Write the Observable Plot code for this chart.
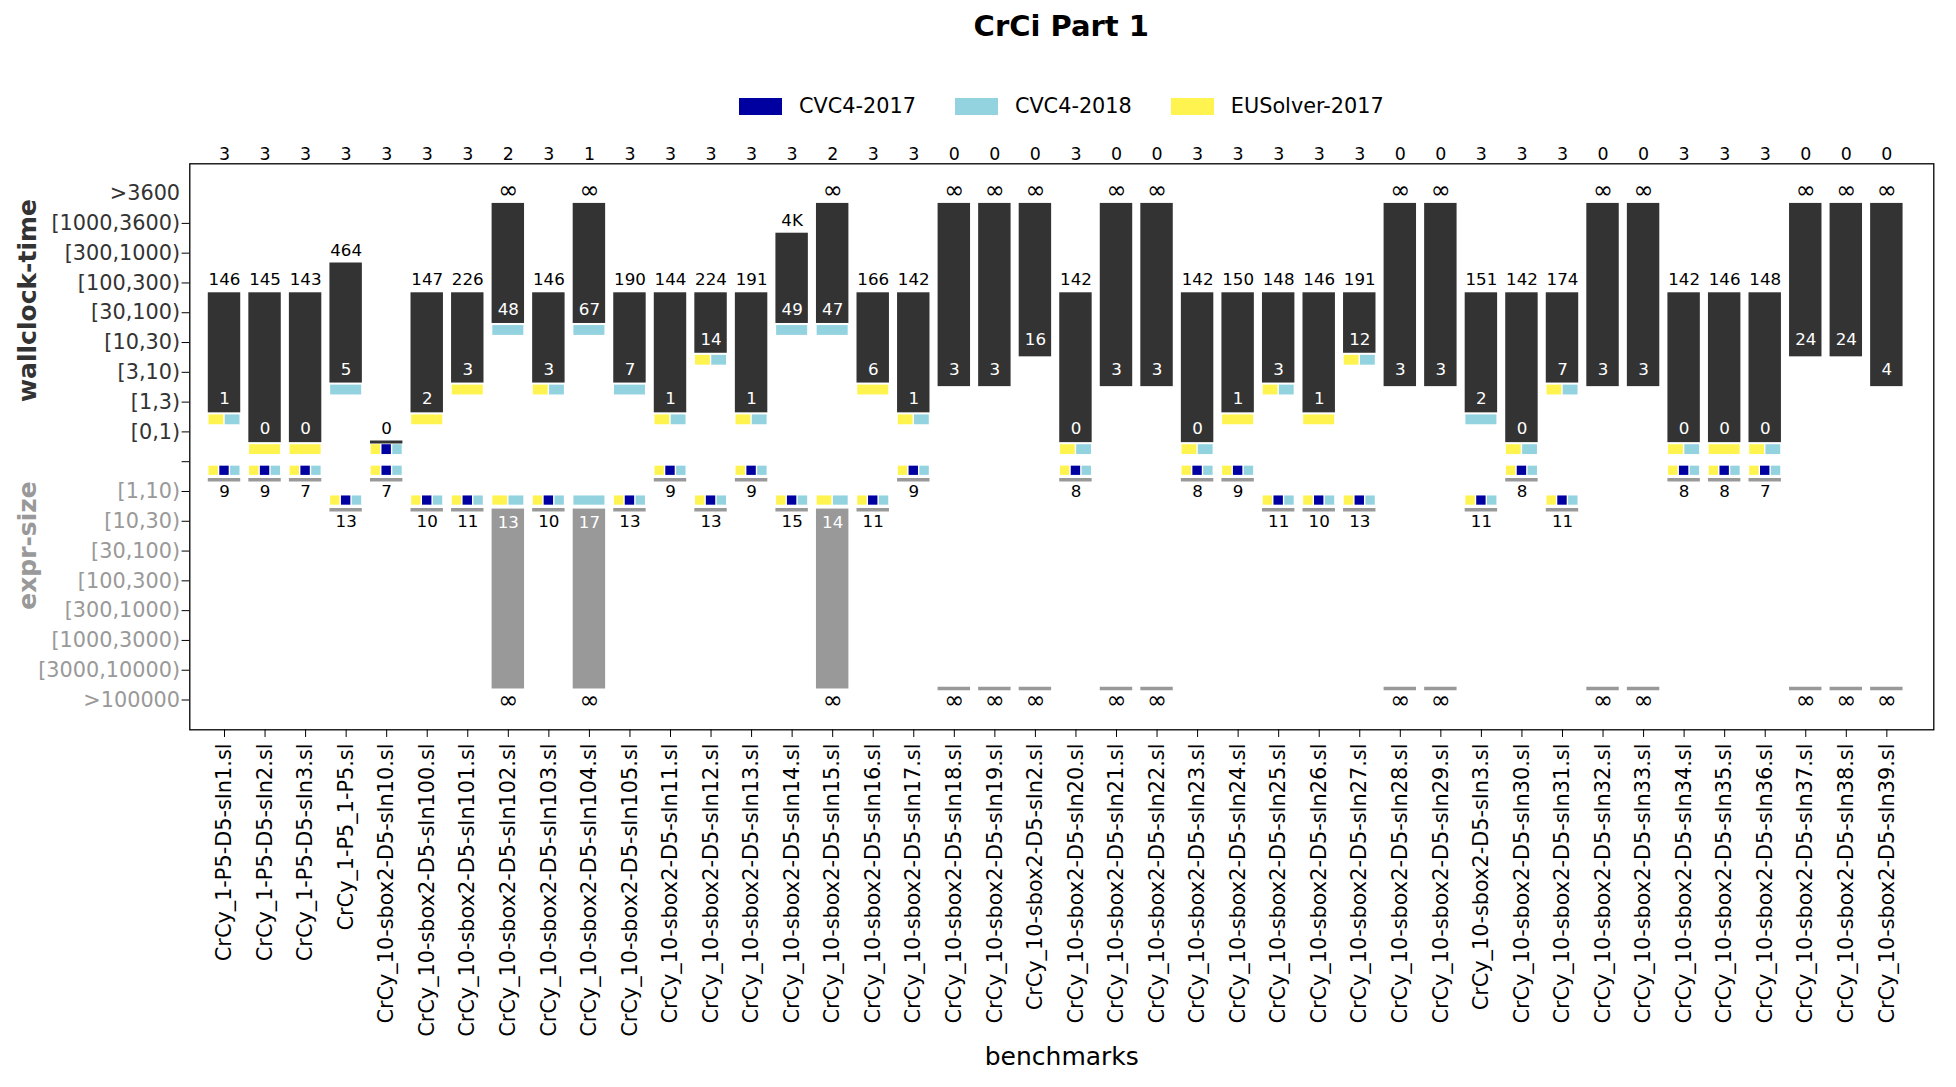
<!DOCTYPE html>
<html><head><meta charset="utf-8">
<script src="https://cdn.jsdelivr.net/npm/d3@7"></script>
<script src="https://cdn.jsdelivr.net/npm/@observablehq/plot@0.6"></script>
<style>
body{margin:0;background:#fff;font-family:"DejaVu Sans",sans-serif;color:#000;}
#header{position:relative;width:1956px;height:130px;}
#title{position:absolute;top:0;left:189.3px;width:1744px;height:52px;line-height:52px;text-align:center;font-weight:bold;font-size:29px;}
#legend{position:absolute;top:96px;left:189.3px;width:1744px;height:20px;display:flex;justify-content:center;align-items:center;font-size:20.8px;}
.item{display:flex;align-items:center;margin:0 19.5px;}
.sw{width:43px;height:17px;margin-right:17px;}
</style></head><body>
<div id="header"><div id="title">CrCi Part 1</div><div id="legend"></div></div>
<div id="chart"></div>
<script>
const benchmarks = [
"CrCy_1-P5-D5-sIn1.sl","CrCy_1-P5-D5-sIn2.sl","CrCy_1-P5-D5-sIn3.sl","CrCy_1-P5_1-P5.sl",
"CrCy_10-sbox2-D5-sIn10.sl","CrCy_10-sbox2-D5-sIn100.sl","CrCy_10-sbox2-D5-sIn101.sl","CrCy_10-sbox2-D5-sIn102.sl",
"CrCy_10-sbox2-D5-sIn103.sl","CrCy_10-sbox2-D5-sIn104.sl","CrCy_10-sbox2-D5-sIn105.sl","CrCy_10-sbox2-D5-sIn11.sl",
"CrCy_10-sbox2-D5-sIn12.sl","CrCy_10-sbox2-D5-sIn13.sl","CrCy_10-sbox2-D5-sIn14.sl","CrCy_10-sbox2-D5-sIn15.sl",
"CrCy_10-sbox2-D5-sIn16.sl","CrCy_10-sbox2-D5-sIn17.sl","CrCy_10-sbox2-D5-sIn18.sl","CrCy_10-sbox2-D5-sIn19.sl",
"CrCy_10-sbox2-D5-sIn2.sl","CrCy_10-sbox2-D5-sIn20.sl","CrCy_10-sbox2-D5-sIn21.sl","CrCy_10-sbox2-D5-sIn22.sl",
"CrCy_10-sbox2-D5-sIn23.sl","CrCy_10-sbox2-D5-sIn24.sl","CrCy_10-sbox2-D5-sIn25.sl","CrCy_10-sbox2-D5-sIn26.sl",
"CrCy_10-sbox2-D5-sIn27.sl","CrCy_10-sbox2-D5-sIn28.sl","CrCy_10-sbox2-D5-sIn29.sl","CrCy_10-sbox2-D5-sIn3.sl",
"CrCy_10-sbox2-D5-sIn30.sl","CrCy_10-sbox2-D5-sIn31.sl","CrCy_10-sbox2-D5-sIn32.sl","CrCy_10-sbox2-D5-sIn33.sl",
"CrCy_10-sbox2-D5-sIn34.sl","CrCy_10-sbox2-D5-sIn35.sl","CrCy_10-sbox2-D5-sIn36.sl","CrCy_10-sbox2-D5-sIn37.sl",
"CrCy_10-sbox2-D5-sIn38.sl","CrCy_10-sbox2-D5-sIn39.sl"];
const solvedCounts = [3,3,3,3,3,3,3,2,3,1,3,3,3,3,3,2,3,3,0,0,0,3,0,0,3,3,3,3,3,0,0,3,3,3,0,0,3,3,3,0,0,0];
const Inf = Infinity;
const wallMax = [146,145,143,464,0,147,226,Inf,146,Inf,190,144,224,191,3550,Inf,166,142,Inf,Inf,Inf,142,Inf,Inf,142,150,148,146,191,Inf,Inf,151,142,174,Inf,Inf,142,146,148,Inf,Inf,Inf];
const wallMin = [1,0,0,5,0,2,3,48,3,67,7,1,14,1,49,47,6,1,3,3,16,0,3,3,0,1,3,1,12,3,3,2,0,7,3,3,0,0,0,24,24,4];
// solvers reaching the best time: E = EUSolver-2017, A = CVC4-2017, B = CVC4-2018
const wallBest = ["EB","E","E","B","EAB","E","E","B","EB","B","B","EB","EB","EB","B","B","E","EB","","","","EB","","","EB","E","EB","E","EB","","","B","EB","EB","","","EB","E","EB","","",""];
const sizeMin = [9,9,7,13,7,10,11,13,10,17,13,9,13,9,15,14,11,9,Inf,Inf,Inf,8,Inf,Inf,8,9,11,10,13,Inf,Inf,11,8,11,Inf,Inf,8,8,7,Inf,Inf,Inf];
const sizeMax = [9,9,7,13,7,10,11,Inf,10,Inf,13,9,13,9,15,Inf,11,9,Inf,Inf,Inf,8,Inf,Inf,8,9,11,10,13,Inf,Inf,11,8,11,Inf,Inf,8,8,7,Inf,Inf,Inf];
const sizeBest = ["EAB","EAB","EAB","EAB","EAB","EAB","EAB","EB","EAB","B","EAB","EAB","EAB","EAB","EAB","EB","EAB","EAB","","","","EAB","","","EAB","EAB","EAB","EAB","EAB","","","EAB","EAB","EAB","","","EAB","EAB","EAB","","",""];
const solverCodes = ["E","A","B"];
const solverNames = {E:"EUSolver-2017", A:"CVC4-2017", B:"CVC4-2018"};
const solverColors = {E:"#fff44f", A:"#0000a0", B:"#93d3e0"};
const legendOrder = ["A","B","E"];
const wallTickLabels = [">3600","[1000,3600)","[300,1000)","[100,300)","[30,100)","[10,30)","[3,10)","[1,3)","[0,1)"];
const sizeTickLabels = ["[1,10)","[10,30)","[30,100)","[100,300)","[300,1000)","[1000,3000)","[3000,10000)",">100000"];
const wallEdges = [1,3,10,30,100,300,1000,3600];
const sizeEdges = [10,30,100,300,1000,3000,100000];

// legend
const leg = document.getElementById("legend");
for (const c of legendOrder) {
  const it = document.createElement("div"); it.className = "item";
  const sw = document.createElement("div"); sw.className = "sw"; sw.style.background = solverColors[c];
  const tx = document.createElement("span"); tx.textContent = solverNames[c];
  it.appendChild(sw); it.appendChild(tx); leg.appendChild(it);
}

const fmt = v => v === Infinity ? "∞" : v >= 1000 ? Math.round(v / 1000) + "K" : String(v);
const fsz = v => v === Infinity ? 24 : 16.7;
const wallLevel = v => 8 - wallEdges.filter(e => v >= e).length;
const sizeLevel = v => 10 + sizeEdges.filter(e => v >= e).length;
const idx = d3.range(benchmarks.length);
const rows = idx.map(i => ({
  i, count: solvedCounts[i],
  wMax: wallMax[i], wMin: wallMin[i], wTop: wallLevel(wallMax[i]), wBot: wallLevel(wallMin[i]), wBest: wallBest[i],
  sMin: sizeMin[i], sMax: sizeMax[i], sTop: sizeLevel(sizeMin[i]), sBot: sizeLevel(sizeMax[i]), sBest: sizeBest[i]
}));
const half = 0.4;
const wallSpan = rows.filter(r => r.wMin !== r.wMax);
const wallFlat = rows.filter(r => r.wMin === r.wMax);
const sizeSpan = rows.filter(r => r.sMin !== r.sMax);
const sizeFlat = rows.filter(r => r.sMin === r.sMax);

function squares(bestKey, levelKey, o1, o2) {
  const out = [];
  for (const r of rows) {
    const codes = r[bestKey].split("");
    const n = codes.length;
    codes.forEach((c, k) => out.push({
      code: c,
      x1: r.i - half + 2 * half * k / n, x2: r.i - half + 2 * half * (k + 1) / n,
      y1: r[levelKey] + o1, y2: r[levelKey] + o2
    }));
  }
  return out;
}
const wallSq = squares("wBest", "wBot", 0.43, 0.76);
const sizeSq = squares("sBest", "sTop", -0.85, -0.54);
const sqMarks = [];
for (const c of solverCodes) {
  sqMarks.push(Plot.rect(wallSq.filter(d => d.code === c), {x1: "x1", x2: "x2", y1: "y1", y2: "y2", fill: solverColors[c], insetLeft: 0.7, insetRight: 0.7}));
  sqMarks.push(Plot.rect(sizeSq.filter(d => d.code === c), {x1: "x1", x2: "x2", y1: "y1", y2: "y2", fill: solverColors[c], insetLeft: 0.7, insetRight: 0.7}));
}

const chart = Plot.plot({
  width: 1956, height: 957,
  marginTop: 33.3, marginBottom: 357.7, marginLeft: 189.3, marginRight: 22.7,
  style: {fontFamily: "DejaVu Sans", fontSize: "20.8px", background: "white", color: "black"},
  x: {type: "linear", domain: [-0.856, 42.158], label: null},
  y: {type: "linear", domain: [18, -1], label: null},
  marks: [
    // wallclock bars
    Plot.rect(wallSpan, {x1: r => r.i - half, x2: r => r.i + half, y1: r => r.wTop + 0.33, y2: r => r.wBot + (r.wBest.length ? 0.36 : 0.48), fill: "#333333"}),
    Plot.ruleY(wallFlat, {y: r => r.wTop + 0.34, x1: r => r.i - half, x2: r => r.i + half, stroke: "#333333", strokeWidth: 3}),
    // expr-size bars
    Plot.rect(sizeSpan, {x1: r => r.i - half, x2: r => r.i + half, y1: r => r.sTop - 0.41, y2: r => r.sBot - 0.37, fill: "#999999"}),
    Plot.ruleY(sizeFlat, {y: r => r.sTop - 0.39, x1: r => r.i - half, x2: r => r.i + half, stroke: "#999999", strokeWidth: 3.5}),
    ...sqMarks,
    // labels
    Plot.text(rows, {x: "i", y: r => r.wTop - 0.1, text: r => fmt(r.wMax), fill: "black", fontSize: r => fsz(r.wMax)}),
    Plot.text(wallSpan, {x: "i", y: r => r.wBot - 0.1, text: r => fmt(r.wMin), fill: "white", fontSize: r => fsz(r.wMin)}),
    Plot.text(rows, {x: "i", y: r => r.sBot, text: r => fmt(r.sMax), fill: "black", fontSize: r => fsz(r.sMax)}),
    Plot.text(sizeSpan, {x: "i", y: r => r.sTop + 0.03, text: r => fmt(r.sMin), fill: "white", fontSize: r => fsz(r.sMin)}),
    // top counts
    Plot.text(rows, {x: "i", frameAnchor: "top", lineAnchor: "middle", dy: -9.6, text: r => String(r.count), fill: "black", fontSize: 17.4}),
    // axes
    Plot.axisX({ticks: idx, tickFormat: i => benchmarks[i], tickRotate: -90, tickSize: 7.7, tickPadding: 6, label: null}),
    Plot.axisY({ticks: d3.range(1, 18), tickFormat: () => "", tickSize: 7.7, label: null}),
    Plot.axisY({ticks: d3.range(0, 9), tickFormat: i => wallTickLabels[i], tickSize: 0, tickPadding: 9.7, color: "#333333", label: null}),
    Plot.axisY({ticks: d3.range(10, 18), tickFormat: i => sizeTickLabels[i - 10], tickSize: 0, tickPadding: 9.7, color: "#999999", label: null}),
    Plot.frame({stroke: "black", strokeWidth: 1.3}),
    // axis titles
    Plot.text(["wallclock-time"], {frameAnchor: "top-left", textAnchor: "middle", lineAnchor: "middle", dx: 27.4 - 189.3, dy: 300 - 163.3, rotate: -90, text: d => d, fontWeight: "bold", fontSize: 25, fill: "#333333"}),
    Plot.text(["expr-size"], {frameAnchor: "top-left", textAnchor: "middle", lineAnchor: "middle", dx: 27.4 - 189.3, dy: 545 - 163.3, rotate: -90, text: d => d, fontWeight: "bold", fontSize: 25, fill: "#999999"}),
    Plot.text(["benchmarks"], {frameAnchor: "bottom", lineAnchor: "middle", dy: 1056.6 - 729.3, text: d => d, fontSize: 25, fill: "black"})
  ]
});
document.getElementById("chart").appendChild(chart);
</script>
</body></html>
